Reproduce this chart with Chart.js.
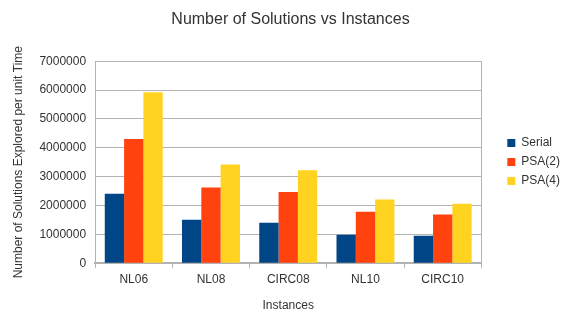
<!DOCTYPE html>
<html>
<head>
<meta charset="utf-8">
<script src="https://cdn.jsdelivr.net/npm/chart.js@4/dist/chart.umd.min.js"></script>
<style>
  html, body { margin: 0; padding: 0; background: #fff; }
  #wrap { width: 572px; height: 318px; }
</style>
</head>
<body>
<div id="wrap"><canvas id="chart" width="572" height="318"></canvas></div>
<script>
// data
let instances = ['NL06', 'NL08', 'CIRC08', 'NL10', 'CIRC10'];
let serial = [2410000, 1510000, 1400000, 990000, 950000];
let psa2 = [4300000, 2620000, 2470000, 1780000, 1690000];
let psa4 = [5920000, 3420000, 3220000, 2210000, 2060000];
let seriesNames = ['Serial', 'PSA(2)', 'PSA(4)'];
let seriesColors = ['#004586', '#ff420e', '#ffd320'];

let font = "'Liberation Sans', Arial, sans-serif";
let textColor = '#333333';
let gridColor = '#b3b3b3';

// frame on the right side of the plot like the original
let plotFrame = {
    id: 'plotFrame',
    beforeDatasetsDraw(chart) {
        let a = chart.chartArea;
        let ctx = chart.ctx;
        ctx.save();
        ctx.strokeStyle = gridColor;
        ctx.lineWidth = 1;
        ctx.beginPath();
        ctx.moveTo(Math.round(a.right) + 0.5, a.top);
        ctx.lineTo(Math.round(a.right) + 0.5, a.bottom);
        ctx.stroke();
        ctx.restore();
    }
};

let datasets = [serial, psa2, psa4].map((values, i) => ({
    label: seriesNames[i],
    data: values,
    backgroundColor: seriesColors[i],
    borderWidth: 0,
    categoryPercentage: 0.75,
    barPercentage: 1.0
}));

new Chart(document.getElementById('chart').getContext('2d'), {
    type: 'bar',
    data: { labels: instances, datasets: datasets },
    options: {
        responsive: false,
        animation: false,
        layout: { padding: { left: 11, right: 2, top: 4, bottom: 5 } },
        plugins: {
            title: {
                display: true,
                text: 'Number of Solutions vs Instances',
                color: textColor,
                font: { family: font, size: 16, weight: 'normal' },
                padding: { top: 6, bottom: 32 }
            },
            legend: {
                position: 'right',
                title: { display: true, text: ' ', font: { size: 6 }, padding: 0 },
                labels: {
                    color: textColor,
                    font: { family: font, size: 12 },
                    boxWidth: 8,
                    boxHeight: 8,
                    padding: 7
                }
            },
            tooltip: { enabled: false }
        },
        scales: {
            x: {
                grid: { display: true, drawOnChartArea: false, drawTicks: true, tickLength: 5, color: gridColor },
                border: { color: gridColor, width: 2 },
                ticks: { color: textColor, font: { family: font, size: 12 }, padding: 4 },
                title: {
                    display: true, text: 'Instances', color: textColor,
                    font: { family: font, size: 12 }, padding: { top: 8, bottom: 0 }
                }
            },
            y: {
                min: 0,
                max: 7000000,
                ticks: {
                    stepSize: 1000000, color: textColor, font: { family: font, size: 12 }, padding: 9,
                    callback: v => String(v)
                },
                grid: { color: gridColor, drawTicks: false },
                border: { color: gridColor },
                title: {
                    display: true, text: 'Number of Solutions Explored per unit Time', color: textColor,
                    font: { family: font, size: 12 }, padding: { top: 0, bottom: 5 }
                }
            },
            spacer: {
                type: 'linear',
                position: 'right',
                display: true,
                ticks: { display: false },
                grid: { display: false },
                border: { display: false },
                afterFit: s => { s.width = 19; }
            }
        }
    },
    plugins: [plotFrame]
});
</script>
</body>
</html>
